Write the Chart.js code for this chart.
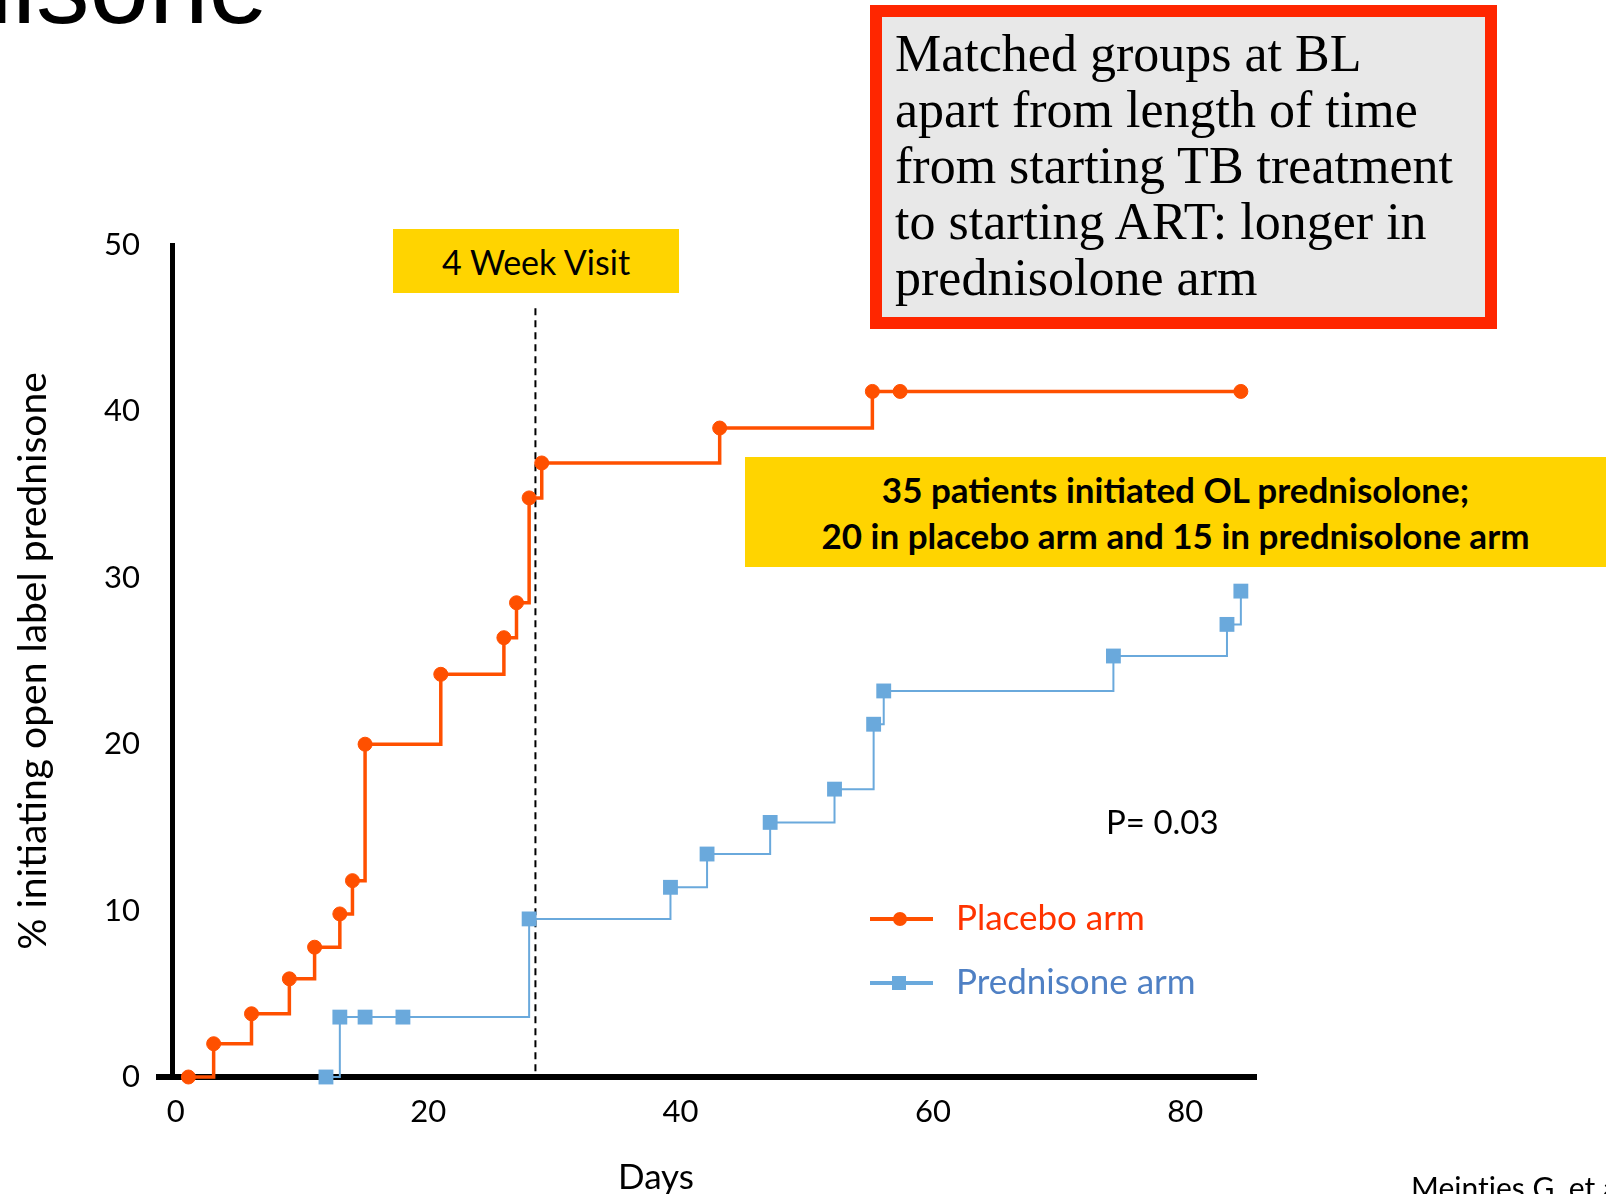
<!DOCTYPE html>
<html>
<head>
<meta charset="utf-8">
<script src="https://cdn.jsdelivr.net/npm/chart.js@4/dist/chart.umd.min.js"></script>
<style>
  html, body { margin: 0; padding: 0; background: #fff; }
  #page { position: relative; width: 1606px; height: 1194px; overflow: hidden; background: #fff; font-family: Lato, "Open Sans", sans-serif; }
  #chart { position: absolute; left: 0; top: 0; }
  .abs { position: absolute; white-space: nowrap; }
  #title { font-family: "Liberation Sans", Arial, sans-serif; font-size: 107px; line-height: 107px; right: 1338px; top: -67px; color: #000; }
  #visit { left: 393px; top: 229px; width: 286px; height: 64px; background: #FFD400; display: flex; align-items: center; justify-content: center; font-size: 34px; color: #000; }
  #note { left: 745px; top: 457px; width: 861px; height: 110px; background: #FFD400; display: flex; flex-direction: column; align-items: center; justify-content: center; font-weight: bold; font-size: 35px; line-height: 46px; color: #000; }
  #box { left: 870px; top: 5px; width: 627px; height: 324px; box-sizing: border-box; border: 12px solid #FF2600; background: #E8E8E8; font-family: "Liberation Serif", "Times New Roman", serif; font-size: 52px; line-height: 56px; padding: 9px 0 0 13px; color: #000; white-space: normal; }
  #pval { left: 1106px; top: 801px; font-size: 33px; color: #000; }
  #days { left: 656px; top: 1154px; transform: translateX(-50%); font-size: 35px; color: #000; }
  #cite { left: 1411px; top: 1169px; font-size: 30px; color: #000; }
</style>
</head>
<body>
<div id="page">
  <canvas id="chart" width="1606" height="1194"></canvas>
  <div id="title" class="abs">nisone</div>
  <div id="visit" class="abs">4 Week Visit</div>
  <div id="box" class="abs">Matched groups at BL<br>apart from length of time<br>from starting TB treatment<br>to starting ART: longer in<br>prednisolone arm</div>
  <div id="note" class="abs"><div>35 patients initiated OL prednisolone;</div><div>20 in placebo arm and 15 in prednisolone arm</div></div>
  <div id="pval" class="abs">P= 0.03</div>
  <div id="days" class="abs">Days</div>
  <div id="cite" class="abs">Meintjes G, et al</div>
</div>
<script>
// data (days, % initiating OL prednisone)
const placeboDays = [1, 3, 6, 9, 11, 13, 14, 15, 21, 26, 27, 28, 29, 43.1, 55.2, 57.4, 84.4];
const placeboPct = [0, 2.0, 3.8, 5.9, 7.8, 9.8, 11.8, 20.0, 24.2, 26.4, 28.5, 34.8, 36.9, 39.0, 41.2, 41.2, 41.2];
const prednisoneDays = [11.9, 13, 15, 18, 28, 39.2, 42.1, 47.1, 52.2, 55.3, 56.1, 74.3, 83.3, 84.4];
const prednisonePct = [0, 3.6, 3.6, 3.6, 9.5, 11.4, 13.4, 15.3, 17.3, 21.2, 23.2, 25.3, 27.2, 29.2];
const visitDay = 28.5;
const visitLineTop = 46.2;
const xTicks = [0, 20, 40, 60, 80];
const yTicks = [0, 10, 20, 30, 40, 50];
const seriesNames = ['Placebo arm', 'Prednisone arm'];

const orange = '#FF5000';
const blue = '#6AA9DC';
const font = 'Lato, "Open Sans", sans-serif';

const toPoints = (xs, ys) => xs.map((x, i) => ({ x: x, y: ys[i] }));

// legend with a line and marker, drawn inside the plot
const legendPlugin = {
  id: 'stepLegend',
  afterDatasetsDraw(chart) {
    const ctx = chart.ctx;
    const rows = [
      { ds: 0, y: 919, text: '#FF3300' },
      { ds: 1, y: 983, text: '#4F80C4' },
    ];
    ctx.save();
    rows.forEach(r => {
      const ds = chart.data.datasets[r.ds];
      ctx.strokeStyle = ds.borderColor;
      ctx.lineWidth = 4;
      ctx.beginPath();
      ctx.moveTo(870, r.y);
      ctx.lineTo(933, r.y);
      ctx.stroke();
      ctx.fillStyle = ds.borderColor;
      if (ds.pointStyle === 'rect') {
        ctx.fillRect(899 - 7, r.y - 7, 14, 14);
      } else {
        ctx.beginPath();
        ctx.arc(900, r.y, 7, 0, Math.PI * 2);
        ctx.fill();
      }
      ctx.fillStyle = r.text;
      ctx.font = '35px ' + font;
      ctx.textBaseline = 'middle';
      ctx.fillText(ds.label, 956, r.y);
    });
    ctx.restore();
  }
};

// x axis line sticks out a little to the left of the y axis
const axisStub = {
  id: 'axisStub',
  afterDraw(chart) {
    const { ctx, chartArea } = chart;
    ctx.save();
    ctx.strokeStyle = '#000';
    ctx.lineWidth = 6;
    ctx.beginPath();
    ctx.moveTo(chartArea.left - 16, chartArea.bottom);
    ctx.lineTo(chartArea.left + 2, chartArea.bottom);
    ctx.stroke();
    ctx.restore();
  }
};

const chart = new Chart(document.getElementById('chart'), {
  type: 'line',
  data: {
    datasets: [
      {
        label: seriesNames[0],
        data: toPoints(placeboDays, placeboPct),
        stepped: true,
        borderColor: orange,
        backgroundColor: orange,
        borderWidth: 3.5,
        pointStyle: 'circle',
        pointRadius: 7,
        pointBorderWidth: 1,
        pointBorderColor: orange,
        pointBackgroundColor: orange,
        clip: false,
      },
      {
        label: seriesNames[1],
        data: toPoints(prednisoneDays, prednisonePct),
        stepped: true,
        borderColor: blue,
        backgroundColor: blue,
        borderWidth: 2,
        pointStyle: 'rect',
        pointRadius: 10.5,
        pointBorderWidth: 0,
        pointBackgroundColor: blue,
        clip: false,
      },
      {
        label: '4 Week Visit',
        data: [{ x: visitDay, y: visitLineTop }, { x: visitDay, y: 0 }],
        borderColor: '#000',
        borderWidth: 2,
        borderDash: [7, 5],
        pointRadius: 0,
      },
    ],
  },
  options: {
    responsive: false,
    animation: false,
    layout: { padding: { top: 245, right: 350, bottom: 0, left: 0 } },
    plugins: {
      legend: { display: false },
      tooltip: { enabled: false },
    },
    scales: {
      x: {
        type: 'linear',
        min: -0.3,
        max: 85.6,
        z: 1,
        afterFit: s => { s.height = 117; },
        afterBuildTicks: s => { s.ticks = xTicks.map(v => ({ value: v })); },
        grid: { display: false, drawTicks: false },
        border: { display: true, color: '#000', width: 6 },
        ticks: { padding: 16, color: '#000', font: { family: font, size: 31 } },
      },
      y: {
        min: 0,
        max: 50,
        z: 1,
        afterFit: s => { s.width = 172; },
        afterBuildTicks: s => { s.ticks = yTicks.map(v => ({ value: v })); },
        grid: { display: false, drawTicks: false },
        border: { display: true, color: '#000', width: 5 },
        ticks: { padding: 32, color: '#000', font: { family: font, size: 31 } },
        title: { display: true, text: '% initiating open label prednisone', color: '#000', padding: { top: 10, bottom: 0 }, font: { family: font, size: 39 } },
      },
    },
  },
  plugins: [legendPlugin, axisStub],
});
</script>
</body>
</html>
